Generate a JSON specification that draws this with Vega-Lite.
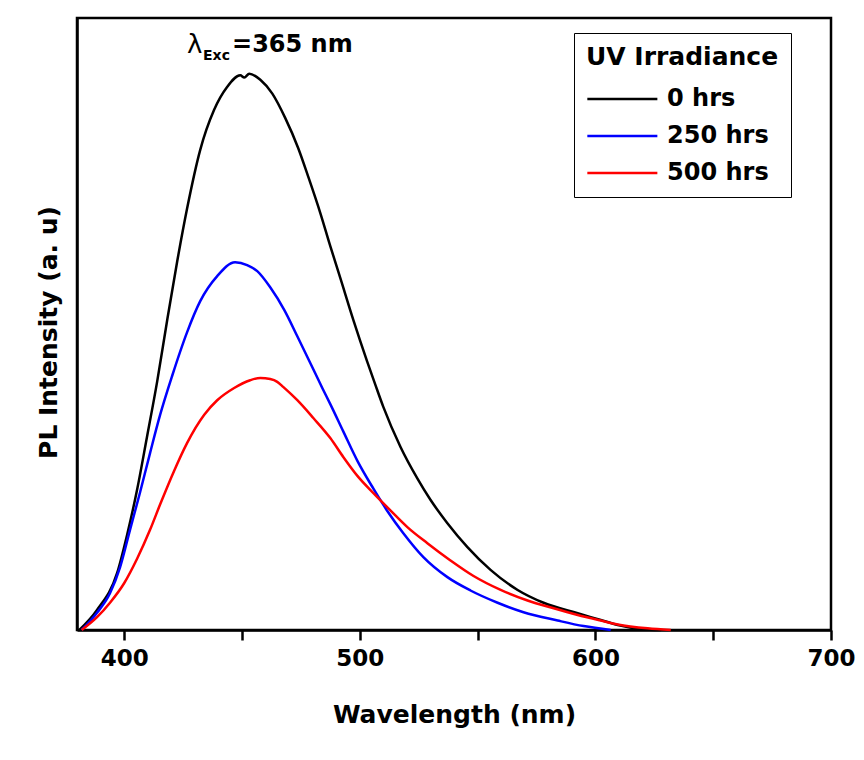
{
  "$schema": "https://vega.github.io/schema/vega-lite/v6.json",
  "autosize": "none",
  "width": 754,
  "height": 612,
  "padding": {"left": 77, "top": 18, "right": 33, "bottom": 130},
  "background": "white",
  "config": {
    "view": {"stroke": "black", "strokeWidth": 2.5},
    "font": "DejaVu Sans"
  },
  "datasets": {
    "spectra": [
      {"wl": 381.0, "I": 0.0, "series": "0 hrs"},
      {"wl": 388.5, "I": 0.036, "series": "0 hrs"},
      {"wl": 397.0, "I": 0.102, "series": "0 hrs"},
      {"wl": 401.2, "I": 0.170, "series": "0 hrs"},
      {"wl": 405.5, "I": 0.252, "series": "0 hrs"},
      {"wl": 409.7, "I": 0.347, "series": "0 hrs"},
      {"wl": 414.0, "I": 0.446, "series": "0 hrs"},
      {"wl": 418.2, "I": 0.555, "series": "0 hrs"},
      {"wl": 422.5, "I": 0.662, "series": "0 hrs"},
      {"wl": 426.7, "I": 0.757, "series": "0 hrs"},
      {"wl": 432.3, "I": 0.863, "series": "0 hrs"},
      {"wl": 438.2, "I": 0.935, "series": "0 hrs"},
      {"wl": 443.7, "I": 0.976, "series": "0 hrs"},
      {"wl": 449.3, "I": 0.997, "series": "0 hrs"},
      {"wl": 451.0, "I": 0.993, "series": "0 hrs"},
      {"wl": 453.1, "I": 1.0, "series": "0 hrs"},
      {"wl": 457.8, "I": 0.989, "series": "0 hrs"},
      {"wl": 462.9, "I": 0.964, "series": "0 hrs"},
      {"wl": 468.4, "I": 0.920, "series": "0 hrs"},
      {"wl": 473.9, "I": 0.866, "series": "0 hrs"},
      {"wl": 478.2, "I": 0.814, "series": "0 hrs"},
      {"wl": 483.3, "I": 0.749, "series": "0 hrs"},
      {"wl": 487.5, "I": 0.690, "series": "0 hrs"},
      {"wl": 491.8, "I": 0.632, "series": "0 hrs"},
      {"wl": 497.3, "I": 0.557, "series": "0 hrs"},
      {"wl": 503.2, "I": 0.482, "series": "0 hrs"},
      {"wl": 506.6, "I": 0.441, "series": "0 hrs"},
      {"wl": 510.0, "I": 0.401, "series": "0 hrs"},
      {"wl": 517.3, "I": 0.329, "series": "0 hrs"},
      {"wl": 524.5, "I": 0.272, "series": "0 hrs"},
      {"wl": 530.0, "I": 0.234, "series": "0 hrs"},
      {"wl": 537.2, "I": 0.192, "series": "0 hrs"},
      {"wl": 545.7, "I": 0.149, "series": "0 hrs"},
      {"wl": 555.5, "I": 0.108, "series": "0 hrs"},
      {"wl": 567.0, "I": 0.072, "series": "0 hrs"},
      {"wl": 578.0, "I": 0.049, "series": "0 hrs"},
      {"wl": 592.5, "I": 0.030, "series": "0 hrs"},
      {"wl": 602.3, "I": 0.018, "series": "0 hrs"},
      {"wl": 609.5, "I": 0.009, "series": "0 hrs"},
      {"wl": 619.3, "I": 0.002, "series": "0 hrs"},
      {"wl": 627.8, "I": 0.0, "series": "0 hrs"},

      {"wl": 382.0, "I": 0.0, "series": "250 hrs"},
      {"wl": 388.5, "I": 0.031, "series": "250 hrs"},
      {"wl": 394.0, "I": 0.066, "series": "250 hrs"},
      {"wl": 398.3, "I": 0.113, "series": "250 hrs"},
      {"wl": 402.5, "I": 0.180, "series": "250 hrs"},
      {"wl": 406.8, "I": 0.248, "series": "250 hrs"},
      {"wl": 411.0, "I": 0.318, "series": "250 hrs"},
      {"wl": 415.3, "I": 0.387, "series": "250 hrs"},
      {"wl": 420.4, "I": 0.457, "series": "250 hrs"},
      {"wl": 426.7, "I": 0.535, "series": "250 hrs"},
      {"wl": 432.3, "I": 0.591, "series": "250 hrs"},
      {"wl": 439.5, "I": 0.636, "series": "250 hrs"},
      {"wl": 447.1, "I": 0.661, "series": "250 hrs"},
      {"wl": 452.2, "I": 0.656, "series": "250 hrs"},
      {"wl": 456.5, "I": 0.645, "series": "250 hrs"},
      {"wl": 462.0, "I": 0.616, "series": "250 hrs"},
      {"wl": 468.0, "I": 0.575, "series": "250 hrs"},
      {"wl": 473.5, "I": 0.528, "series": "250 hrs"},
      {"wl": 479.0, "I": 0.480, "series": "250 hrs"},
      {"wl": 484.1, "I": 0.435, "series": "250 hrs"},
      {"wl": 487.5, "I": 0.406, "series": "250 hrs"},
      {"wl": 493.0, "I": 0.357, "series": "250 hrs"},
      {"wl": 499.0, "I": 0.304, "series": "250 hrs"},
      {"wl": 505.8, "I": 0.254, "series": "250 hrs"},
      {"wl": 511.7, "I": 0.214, "series": "250 hrs"},
      {"wl": 518.5, "I": 0.174, "series": "250 hrs"},
      {"wl": 527.0, "I": 0.131, "series": "250 hrs"},
      {"wl": 537.2, "I": 0.095, "series": "250 hrs"},
      {"wl": 547.0, "I": 0.071, "series": "250 hrs"},
      {"wl": 558.5, "I": 0.049, "series": "250 hrs"},
      {"wl": 569.5, "I": 0.032, "series": "250 hrs"},
      {"wl": 584.0, "I": 0.017, "series": "250 hrs"},
      {"wl": 595.0, "I": 0.007, "series": "250 hrs"},
      {"wl": 606.5, "I": 0.0, "series": "250 hrs"},

      {"wl": 382.0, "I": 0.0, "series": "500 hrs"},
      {"wl": 388.5, "I": 0.023, "series": "500 hrs"},
      {"wl": 394.0, "I": 0.049, "series": "500 hrs"},
      {"wl": 400.0, "I": 0.084, "series": "500 hrs"},
      {"wl": 405.5, "I": 0.128, "series": "500 hrs"},
      {"wl": 411.0, "I": 0.180, "series": "500 hrs"},
      {"wl": 415.3, "I": 0.226, "series": "500 hrs"},
      {"wl": 421.2, "I": 0.286, "series": "500 hrs"},
      {"wl": 426.7, "I": 0.336, "series": "500 hrs"},
      {"wl": 434.0, "I": 0.387, "series": "500 hrs"},
      {"wl": 439.5, "I": 0.413, "series": "500 hrs"},
      {"wl": 446.7, "I": 0.435, "series": "500 hrs"},
      {"wl": 453.5, "I": 0.449, "series": "500 hrs"},
      {"wl": 457.8, "I": 0.453, "series": "500 hrs"},
      {"wl": 462.0, "I": 0.451, "series": "500 hrs"},
      {"wl": 465.0, "I": 0.446, "series": "500 hrs"},
      {"wl": 467.5, "I": 0.437, "series": "500 hrs"},
      {"wl": 473.5, "I": 0.413, "series": "500 hrs"},
      {"wl": 480.3, "I": 0.381, "series": "500 hrs"},
      {"wl": 487.5, "I": 0.345, "series": "500 hrs"},
      {"wl": 493.0, "I": 0.311, "series": "500 hrs"},
      {"wl": 499.0, "I": 0.277, "series": "500 hrs"},
      {"wl": 505.8, "I": 0.246, "series": "500 hrs"},
      {"wl": 513.0, "I": 0.215, "series": "500 hrs"},
      {"wl": 520.2, "I": 0.185, "series": "500 hrs"},
      {"wl": 528.7, "I": 0.156, "series": "500 hrs"},
      {"wl": 538.5, "I": 0.125, "series": "500 hrs"},
      {"wl": 548.3, "I": 0.097, "series": "500 hrs"},
      {"wl": 559.8, "I": 0.072, "series": "500 hrs"},
      {"wl": 571.2, "I": 0.053, "series": "500 hrs"},
      {"wl": 582.3, "I": 0.039, "series": "500 hrs"},
      {"wl": 592.5, "I": 0.027, "series": "500 hrs"},
      {"wl": 602.3, "I": 0.017, "series": "500 hrs"},
      {"wl": 609.5, "I": 0.010, "series": "500 hrs"},
      {"wl": 622.2, "I": 0.003, "series": "500 hrs"},
      {"wl": 632.0, "I": 0.0, "series": "500 hrs"}
    ]
  },
  "layer": [
    {
      "data": {"name": "spectra"},
      "mark": {"type": "line", "strokeWidth": 2.5, "interpolate": "monotone"},
      "encoding": {
        "x": {
          "field": "wl", "type": "quantitative",
          "scale": {"domain": [380, 700], "nice": false, "zero": false},
          "axis": {
            "title": "Wavelength (nm)",
            "values": [400, 450, 500, 550, 600, 650, 700],
            "labelExpr": "datum.value % 100 === 0 ? datum.label : ''",
            "grid": false,
            "ticks": true,
            "domainColor": "black", "domainWidth": 2.5,
            "tickColor": "black", "tickWidth": 2.5, "tickSize": 10,
            "labelFont": "DejaVu Sans", "labelFontSize": 23, "labelFontWeight": "bold", "labelColor": "black",
            "labelPadding": 7, "labelFlush": false,
            "titleFont": "DejaVu Sans", "titleFontSize": 25, "titleFontWeight": "bold", "titleColor": "black",
            "titlePadding": 32
          }
        },
        "y": {
          "field": "I", "type": "quantitative",
          "scale": {"domain": [0, 1.1], "nice": false},
          "axis": {
            "title": "PL Intensity (a. u)",
            "ticks": false, "labels": false, "grid": false,
            "domainColor": "black", "domainWidth": 2.5,
            "titleFont": "DejaVu Sans", "titleFontSize": 25, "titleFontWeight": "bold", "titleColor": "black",
            "titlePadding": 16, "titleY": 314
          }
        },
        "color": {
          "field": "series", "type": "nominal",
          "scale": {"domain": ["0 hrs", "250 hrs", "500 hrs"], "range": ["#000000", "#0000ff", "#ff0000"]},
          "legend": {
            "title": "UV Irradiance",
            "orient": "none", "legendX": 497, "legendY": 15,
            "strokeColor": "black", "fillColor": "white", "padding": 12,
            "titleFont": "DejaVu Sans", "titleFontSize": 25, "titleFontWeight": "bold", "titleColor": "black",
            "titlePadding": 16, "titleLimit": 400,
            "labelFont": "DejaVu Sans", "labelFontSize": 24, "labelFontWeight": "bold", "labelColor": "black",
            "symbolType": "M-1,0H5", "symbolSize": 545, "symbolStrokeWidth": 2.5,
            "labelOffset": 55, "rowPadding": 12
          }
        }
      }
    },
    {
      "data": {"values": [{"wl": 426.7, "I": 1.051, "txt": "λ"}]},
      "mark": {"type": "text", "align": "left", "baseline": "middle", "font": "DejaVu Sans", "fontSize": 26, "fontWeight": "normal", "color": "black"},
      "encoding": {
        "x": {"field": "wl", "type": "quantitative"},
        "y": {"field": "I", "type": "quantitative"},
        "text": {"field": "txt"}
      }
    },
    {
      "data": {"values": [{"wl": 433.5, "I": 1.032, "txt": "Exc"}]},
      "mark": {"type": "text", "align": "left", "baseline": "middle", "font": "DejaVu Sans", "fontSize": 14, "fontWeight": "bold", "color": "black"},
      "encoding": {
        "x": {"field": "wl", "type": "quantitative"},
        "y": {"field": "I", "type": "quantitative"},
        "text": {"field": "txt"}
      }
    },
    {
      "data": {"values": [{"wl": 445.8, "I": 1.051, "txt": "=365 nm"}]},
      "mark": {"type": "text", "align": "left", "baseline": "middle", "font": "DejaVu Sans", "fontSize": 24, "fontWeight": "bold", "color": "black"},
      "encoding": {
        "x": {"field": "wl", "type": "quantitative"},
        "y": {"field": "I", "type": "quantitative"},
        "text": {"field": "txt"}
      }
    }
  ]
}
